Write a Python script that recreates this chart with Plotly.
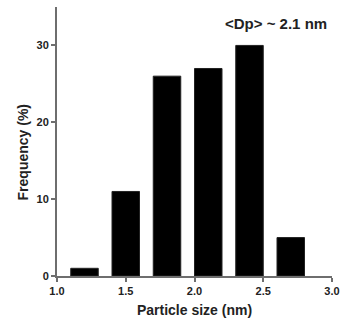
import plotly.graph_objects as go

# Particle size distribution (histogram bins, nm) and frequency (%)
bin_centers = [1.2, 1.5, 1.8, 2.1, 2.4, 2.7]
frequency = [1, 11, 26, 27, 30, 5]
bin_width = 0.2

x_ticks = [1.0, 1.5, 2.0, 2.5, 3.0]
x_tick_labels = ["1.0", "1.5", "2.0", "2.5", "3.0"]
y_ticks = [0, 10, 20, 30]

font_family = "Arial, Liberation Sans, sans-serif"
axis_color = "#6e6e6e"

fig = go.Figure(
    go.Bar(
        x=bin_centers,
        y=frequency,
        width=[bin_width] * len(bin_centers),
        marker=dict(color="black", line=dict(color="#222", width=1)),
    )
)

fig.update_layout(
    width=347,
    height=329,
    margin=dict(l=57, r=13, t=7, b=53),
    plot_bgcolor="white",
    paper_bgcolor="white",
    showlegend=False,
    font=dict(family=font_family, color="#222", weight="bold"),
)

fig.update_xaxes(
    range=[1.0, 3.0],
    tickvals=x_ticks,
    ticktext=x_tick_labels,
    ticks="outside",
    ticklen=4,
    tickwidth=2,
    tickcolor=axis_color,
    showline=True,
    linecolor=axis_color,
    linewidth=2,
    showgrid=False,
    zeroline=False,
    tickfont=dict(size=11, family=font_family, weight="bold"),
    title=dict(text="Particle size (nm)", font=dict(size=14, family=font_family, weight="bold"), standoff=9),
)

fig.update_yaxes(
    range=[0, 35],
    tickvals=y_ticks,
    ticks="outside",
    ticklen=4,
    tickwidth=2,
    tickcolor=axis_color,
    showline=True,
    linecolor=axis_color,
    linewidth=2,
    showgrid=False,
    zeroline=False,
    tickfont=dict(size=11, family=font_family, weight="bold"),
)

# Y-axis title placed as a rotated annotation
fig.add_annotation(
    text="Frequency (%)",
    textangle=-90,
    xref="paper",
    yref="paper",
    x=-0.123,
    y=0.46,
    xanchor="center",
    yanchor="middle",
    showarrow=False,
    font=dict(size=14, family=font_family, color="#222", weight="bold"),
)

fig.add_annotation(
    text="&lt;Dp&gt; ~ 2.1 nm",
    xref="paper",
    yref="paper",
    x=0.99,
    y=0.937,
    xanchor="right",
    yanchor="middle",
    showarrow=False,
    font=dict(size=15, family=font_family, color="#222", weight="bold"),
)

fig.write_html("out.html")
